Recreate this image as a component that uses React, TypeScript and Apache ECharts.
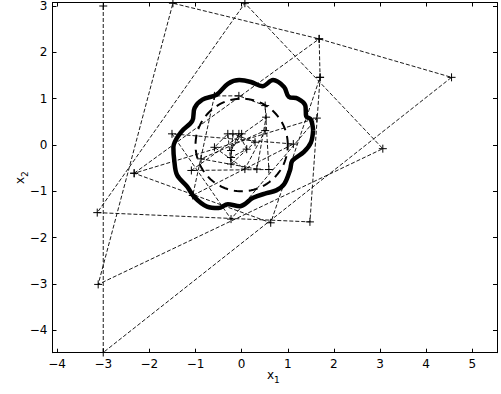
import React, { useEffect, useRef } from "react";
import * as echarts from "echarts";

// Axis ranges and ticks
const X_RANGE = [-4.1, 5.535];
const Y_RANGE = [-4.484, 3.075];
const X_TICKS = [-4, -3, -2, -1, 0, 1, 2, 3, 4, 5];
const Y_TICKS = [-4, -3, -2, -1, 0, 1, 2, 3];

// Main iterate trajectory (dashed, "+" markers)
const TRAJECTORY: [number, number][] = [
  [-3.0, 3.0], [-3.0, -4.48], [4.55, 1.46], [1.68, 2.29], [-1.49, 3.06],
  [-3.11, -3.01], [3.06, -0.08], [0.07, 3.06], [-3.13, -1.46], [1.48, -1.66],
  [1.7, 1.46], [0.63, -1.68], [-2.33, -0.61], [1.63, 0.58], [-0.23, -1.6],
  [-1.51, 0.24], [1.12, 0.02], [-1.06, -1.09], [-0.59, 1.06], [-0.06, 1.06],
  [0.51, 0.85], [0.59, -0.53], [-1.09, -0.55], [0.53, 0.6], [0.33, -0.52],
  [-0.88, -0.3], [0.51, 0.31], [0.07, -0.52], [-0.59, -0.05], [-0.3, 0.24],
  [-0.23, -0.41], [0.29, 0.06], [-0.19, 0.24], [-0.23, -0.27], [0.11, -0.09],
  [-0.06, 0.24], [-0.23, -0.12], [0.0, 0.24],
];

// Second short dashed segment chain
const TRAJECTORY_B: [number, number][] = [
  [-2.33, -0.61], [1.68, 2.29], [1.7, 1.46],
];

// Thick scalloped boundary, outline points
const BOUNDARY: [number, number][] = [
  [1.55, 0.32], [1.5, 0.55], [1.4, 0.62], [1.38, 0.85], [1.22, 1.0],
  [1.02, 1.04], [0.92, 1.25], [0.68, 1.4], [0.45, 1.27], [0.2, 1.36],
  [-0.05, 1.4], [-0.3, 1.32], [-0.55, 1.08], [-0.85, 0.98], [-1.02, 0.8],
  [-1.07, 0.52], [-1.32, 0.27], [-1.48, -0.05], [-1.46, -0.34], [-1.4, -0.65],
  [-1.18, -0.9], [-1.03, -1.12], [-0.75, -1.33], [-0.5, -1.36], [-0.3, -1.28],
  [-0.04, -1.32], [0.25, -1.14], [0.54, -1.04], [0.75, -0.98], [0.92, -0.85],
  [1.05, -0.54], [1.1, -0.34], [1.35, -0.15], [1.5, 0.05], [1.55, 0.32],
];

// Dashed reference circle
const CIRCLE_CENTER = [0, 0];
const CIRCLE_RADIUS = 1;

const minus = (v: number) => String(v).replace("-", "\u2212");

export default function App() {
  const ref = useRef<HTMLDivElement>(null);

  useEffect(() => {
    if (!ref.current) return;
    const chart = echarts.init(ref.current, null, { renderer: "svg" });

    const circle: [number, number][] = [];
    for (let i = 0; i <= 120; i++) {
      const t = (i / 120) * Math.PI * 2;
      circle.push([
        CIRCLE_CENTER[0] + CIRCLE_RADIUS * Math.cos(t),
        CIRCLE_CENTER[1] + CIRCLE_RADIUS * Math.sin(t),
      ]);
    }

    const font = "DejaVu Sans";
    const axisCommon = {
      type: "value" as const,
      splitLine: { show: false },
      axisLine: { show: true, onZero: false, lineStyle: { color: "#000", width: 1 } },
    };
    const plus = "path://M0,5L10,5M5,0L5,10";
    const rich = {
      a: { fontFamily: font, fontSize: 12, color: "#000", fill: "#000" },
      s: { fontFamily: font, fontSize: 9, color: "#000", fill: "#000", padding: [10, 0, 0, 0] },
    };

    chart.setOption({
      animation: false,
      backgroundColor: "#fff",
      grid: { left: 52.5, right: 4, top: 2.5, bottom: 41.3, containLabel: false },
      graphic: [
        {
          type: "text",
          left: 267,
          top: 369,
          style: { text: "{a|x}{s|1}", rich, fill: "#000" },
        },
        {
          type: "text",
          x: 10,
          y: 184,
          rotation: Math.PI / 2,
          style: { text: "{a|x}{s|2}", rich, fill: "#000" },
        },
      ],
      xAxis: [
        {
          ...axisCommon,
          position: "bottom",
          min: X_RANGE[0],
          max: X_RANGE[1],
          axisTick: { show: true, inside: true, length: 4, customValues: X_TICKS, lineStyle: { color: "#000" } },
          axisLabel: {
            show: true,
            customValues: X_TICKS,
            formatter: (v: number) => minus(v),
            color: "#000",
            fontFamily: font,
            fontSize: 12,
            margin: 5,
          },
        },
        {
          ...axisCommon,
          position: "top",
          min: X_RANGE[0],
          max: X_RANGE[1],
          axisTick: { show: true, inside: true, length: 4, customValues: X_TICKS, lineStyle: { color: "#000" } },
          axisLabel: { show: false },
        },
      ],
      yAxis: [
        {
          ...axisCommon,
          position: "left",
          min: Y_RANGE[0],
          max: Y_RANGE[1],
          axisTick: { show: true, inside: true, length: 4, customValues: Y_TICKS, lineStyle: { color: "#000" } },
          axisLabel: {
            show: true,
            customValues: Y_TICKS,
            formatter: (v: number) => minus(v),
            color: "#000",
            fontFamily: font,
            fontSize: 12,
            margin: 5,
          },
        },
        {
          ...axisCommon,
          position: "right",
          min: Y_RANGE[0],
          max: Y_RANGE[1],
          axisTick: { show: true, inside: true, length: 4, customValues: Y_TICKS, lineStyle: { color: "#000" } },
          axisLabel: { show: false },
        },
      ],
      series: [
        {
          type: "line",
          xAxisIndex: 0,
          yAxisIndex: 0,
          data: TRAJECTORY,
          symbol: plus,
          symbolSize: 8,
          itemStyle: { color: "#000", borderColor: "#000", borderWidth: 1 },
          lineStyle: { color: "#000", width: 0.9, type: [4, 2] },
          z: 3,
        },
        {
          type: "line",
          xAxisIndex: 0,
          yAxisIndex: 0,
          data: TRAJECTORY_B,
          symbol: plus,
          symbolSize: 8,
          itemStyle: { color: "#000", borderColor: "#000", borderWidth: 1 },
          lineStyle: { color: "#000", width: 0.9, type: [4, 2] },
          z: 3,
        },
        {
          type: "line",
          xAxisIndex: 0,
          yAxisIndex: 0,
          data: BOUNDARY,
          symbol: "none",
          smooth: 0.35,
          lineStyle: { color: "#000", width: 4.5 },
          z: 2,
        },
        {
          type: "line",
          xAxisIndex: 0,
          yAxisIndex: 0,
          data: circle,
          symbol: "none",
          lineStyle: { color: "#000", width: 2, type: [9, 6] },
          z: 2,
        },
      ],
    });

    return () => chart.dispose();
  }, []);

  return (
    <div
      ref={ref}
      style={{ position: "fixed", left: 0, top: 0, width: 501, height: 394, background: "#fff" }}
    />
  );
}
